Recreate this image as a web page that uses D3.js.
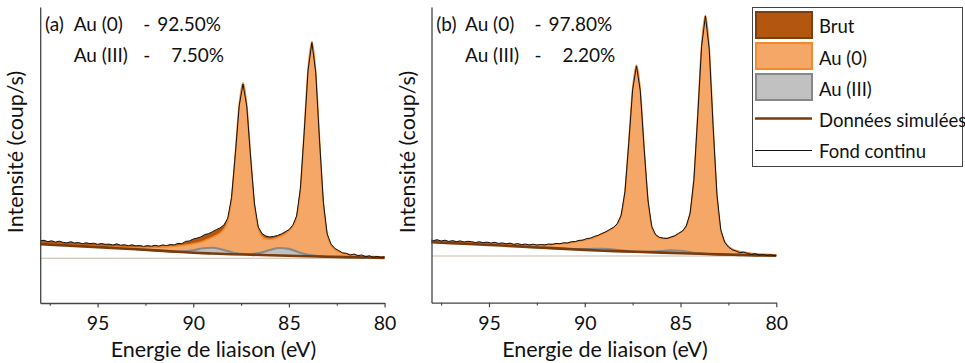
<!DOCTYPE html>
<html><head><meta charset="utf-8">
<script src="https://cdn.jsdelivr.net/npm/d3@7"></script>
<style>body{margin:0;background:#fff}svg{display:block}</style>
</head><body><svg id="c" width="965" height="363"></svg>
<script>
// ---------- data ----------
const xTicks=[95,90,85,80];
const xMinorTicks=[97.5,92.5,87.5,82.5];
const xLabel="Energie de liaison (eV)";
const yLabel="Intensité (coup/s)";
const legendLabels=["Brut","Au (0)","Au (III)","Données simulées","Fond continu"];
const panelTags=["(a)","(b)"];
const au0Names=["Au (0)","Au (0)"];
const au3Names=["Au (III)","Au (III)"];
const au0Pct=["92.50%","97.80%"];
const au3Pct=["7.50%","2.20%"];

// panel (a): [binding energy eV, intensity]
const bgA=[[98,14.2],[97,13.2],[96,12.2],[95,11.2],[94,10.1],[93,9.0],[92,7.9],[91,6.7],[90,5.6],[89,4.8],[88,4.1],[87,3.6],[86,3.1],[85,2.6],[84,2.1],[83,1.6],[82,1.2],[81,0.8],[80,0.4]];
const au0A=[[98,14.9],[97,13.9],[96,12.9],[95,12.2],[94,11.3],[93,10.8],[92,11.0],[91.5,11.4],[91,12.0],[90.5,13.1],[90,14.6],[89.6,16.4],[89.2,19.4],[88.8,22.9],[88.6,25.2],[88.4,29.2],[88.2,37.2],[88.0,59.5],[87.8,104.4],[87.6,152.9],[87.4,175.6],[87.2,152.4],[87.0,100.4],[86.8,53.4],[86.6,29.2],[86.4,21.8],[86.2,19.4],[86.0,19.0],[85.8,19.6],[85.6,20.8],[85.4,22.4],[85.2,24.4],[85.0,27.4],[84.8,31.9],[84.6,41.5],[84.4,69.3],[84.2,127.0],[84.0,189.0],[83.8,216.6],[83.6,186.4],[83.4,117.9],[83.2,55.6],[83.0,23.4],[82.8,12.9],[82.6,8.8],[82.4,6.5],[82.2,5.2],[82.0,4.3],[81.5,3.0],[81.0,2.2],[80.5,1.7],[80,1.2]];
const au3A=[[93,9.0],[92.5,8.45],[92,7.9],[91.5,7.3],[91,6.85],[90.5,6.9],[90,8.0],[89.5,10.0],[89,10.6],[88.5,8.8],[88,6.1],[87.5,4.5],[87,4.25],[86.5,5.45],[86,8.2],[85.5,10.3],[85,9.4],[84.5,6.1],[84,3.4],[83.5,2.15],[83,1.6],[82.5,1.4],[82,1.2],[81.5,1.0],[81,0.8]];
const rawA=[[98.0,17.6],[97.8,18.0],[97.6,16.7],[97.4,17.5],[97.2,16.2],[97.0,17.1],[96.8,15.9],[96.6,15.4],[96.4,16.6],[96.2,15.3],[96.0,15.8],[95.8,14.6],[95.6,15.5],[95.4,14.7],[95.2,15.1],[95.0,14.0],[94.8,14.8],[94.6,14.0],[94.4,14.2],[94.2,13.3],[94.0,14.5],[93.8,13.1],[93.6,13.6],[93.4,12.6],[93.2,13.5],[93.0,12.4],[92.8,12.9],[92.6,11.9],[92.4,12.7],[92.2,12.1],[92.0,13.0],[91.8,12.2],[91.6,13.4],[91.4,12.7],[91.2,13.8],[91.0,13.4],[90.8,14.9],[90.6,14.6],[90.4,16.9],[90.2,17.4],[90.0,19.3],[89.8,20.2],[89.6,21.4],[89.4,23.8],[89.2,24.6],[89.0,26.6],[88.8,28.6],[88.6,30.4],[88.4,33.2],[88.2,40.0],[88.0,60.8],[87.8,104.8],[87.6,152.4],[87.4,174.3],[87.2,151.4],[87.0,100.2],[86.8,54.3],[86.6,31.2],[86.4,24.6],[86.2,22.2],[86.0,21.4],[85.8,21.9],[85.6,22.8],[85.4,24.3],[85.2,26.4],[85.0,28.6],[84.8,33.0],[84.6,42.2],[84.4,69.8],[84.2,126.6],[84.0,188.2],[83.8,215.8],[83.6,186.0],[83.4,117.5],[83.2,56.0],[83.0,24.5],[82.8,14.2],[82.6,9.9],[82.4,7.8],[82.2,5.4],[82.0,5.0],[81.8,3.2],[81.6,4.3],[81.4,2.6],[81.2,3.4],[81.0,1.5],[80.8,2.5],[80.6,1.0],[80.4,1.9],[80.2,0.9],[80.0,1.4]];

// panel (b)
const bgB=[[98,13.8],[97,12.9],[96,12.0],[95,11.1],[94,10.1],[93,9.1],[92,8.1],[91,7.1],[90,6.1],[89,5.3],[88,4.6],[87,4.0],[86,3.4],[85,2.8],[84,2.2],[83,1.6],[82,1.1],[81,0.6],[80,0.2]];
const au0B=[[98,14.5],[97,13.6],[96,12.8],[95,12.2],[94,11.4],[93,11.0],[92,11.15],[91.5,11.8],[91,12.7],[90.5,14.1],[90,15.9],[89.5,18.6],[89.1,22.0],[88.7,25.8],[88.5,28.3],[88.3,32.1],[88.1,40.6],[87.9,64.5],[87.7,113.8],[87.5,166.9],[87.3,191.0],[87.1,165.8],[86.9,107.9],[86.7,55.7],[86.5,29.0],[86.3,21.0],[86.1,18.25],[85.9,17.55],[85.7,17.7],[85.5,18.8],[85.3,20.3],[85.1,22.35],[84.9,25.0],[84.7,29.9],[84.5,42.7],[84.3,76.9],[84.1,141.0],[83.9,210.0],[83.7,240.7],[83.5,207.1],[83.3,130.8],[83.1,61.6],[82.9,25.8],[82.7,14.3],[82.5,9.6],[82.3,7.1],[82.1,5.5],[81.5,3.3],[81,2.1],[80.5,1.6],[80,1.2]];
const au3B=[[93,9.1],[92.5,8.6],[92,8.1],[91.5,7.6],[91,7.15],[90.5,6.83],[90,6.86],[89.5,7.27],[89,7.3],[88.5,6.52],[88,5.36],[87.5,4.55],[87,4.18],[86.5,4.35],[86,5.02],[85.5,5.6],[85,5.18],[84.5,3.8],[84,2.71],[83.5,2.02],[83,1.62],[82.5,1.35],[82,1.1],[81.5,0.85],[81,0.6]];
const rawB=[[98.0,16.0],[97.9,15.4],[97.7,16.3],[97.5,15.0],[97.3,15.8],[97.1,14.6],[96.9,15.4],[96.7,14.4],[96.5,15.1],[96.3,14.0],[96.1,14.7],[95.9,14.3],[95.7,13.5],[95.5,14.3],[95.3,13.3],[95.1,13.9],[94.9,12.9],[94.7,13.7],[94.5,12.6],[94.3,13.1],[94.1,12.2],[93.9,12.9],[93.7,11.7],[93.5,12.4],[93.3,11.4],[93.1,12.0],[92.9,11.1],[92.7,11.8],[92.5,10.9],[92.3,11.5],[92.1,11.0],[91.9,12.0],[91.7,11.6],[91.5,12.6],[91.3,12.3],[91.1,13.2],[90.9,13.0],[90.7,14.2],[90.5,14.4],[90.3,15.6],[90.1,15.9],[89.9,17.4],[89.7,17.9],[89.5,19.6],[89.3,20.7],[89.1,22.6],[88.9,24.2],[88.7,26.5],[88.5,28.6],[88.3,32.3],[88.1,40.8],[87.9,64.5],[87.7,113.5],[87.5,166.3],[87.3,190.0],[87.1,165.2],[86.9,107.6],[86.7,56.0],[86.5,29.4],[86.3,21.4],[86.1,18.6],[85.9,17.9],[85.7,17.5],[85.5,18.9],[85.3,20.1],[85.1,22.6],[84.9,24.9],[84.7,30.0],[84.5,42.8],[84.3,76.5],[84.1,140.6],[83.9,209.5],[83.7,240.0],[83.5,206.6],[83.3,130.4],[83.1,61.8],[82.9,26.4],[82.7,14.0],[82.5,9.0],[82.3,6.2],[82.1,4.9],[81.9,3.2],[81.7,3.9],[81.5,2.5],[81.3,1.6],[81.1,2.4],[80.9,0.8],[80.7,1.5],[80.5,0.6],[80.3,1.2],[80.1,0.4],[80.0,0.7]];

// ---------- layout & style ----------
const FONT="Lato, 'DejaVu Sans', sans-serif";
const C={brut:"#b3560f",brutEdge:"#7d3f10",au0:"#f4a766",au0Edge:"#f28a2c",au3:"#c1c1c1",au3Edge:"#888888",sim:"#7a3b0d",fond:"#111",raw:"#111",zero:"#cbb8a6",axis:"#444"};
const panels=[
 {i:0,bg:bgA,au0:au0A,au3:au3A,raw:rawA,xr:[40.2,384.6],yr:[303,7],yd:[-44.7,251.3]},
 {i:1,bg:bgB,au0:au0B,au3:au3B,raw:rawB,xr:[431.5,776.3],yr:[302.7,7],yd:[-46.7,249]}
];
const svg=d3.select("#c");

panels.forEach(p=>{
  const x=d3.scaleLinear().domain([98,80]).range(p.xr);
  const y=d3.scaleLinear().domain(p.yd).range(p.yr);
  const g=svg.append("g");
  const mk=c=>d3.line().x(d=>x(d[0])).y(d=>y(d[1])).curve(c);
  const smooth=mk(d3.curveMonotoneX), lin=mk(d3.curveLinear);
  function areaPath(top,curve){
    const hi=top[0][0], lo=top[top.length-1][0];
    const base=p.bg.filter(d=>d[0]<=hi+1e-9&&d[0]>=lo-1e-9).slice().reverse();
    return mk(curve)(top)+"L"+smooth(base).slice(1)+"Z";
  }
  g.append("line").attr("x1",p.xr[0]).attr("x2",p.xr[1]).attr("y1",y(0)).attr("y2",y(0))
    .attr("stroke",C.zero).attr("stroke-width",1.1);
  g.append("path").attr("d",areaPath(p.raw,d3.curveLinear)).attr("fill",C.brut);
  g.append("path").attr("d",areaPath(p.au0,d3.curveMonotoneX)).attr("fill",C.au0);
  g.append("path").attr("d",smooth(p.au0)).attr("fill","none").attr("stroke",C.au0Edge).attr("stroke-width",1.6);
  g.append("path").attr("d",areaPath(p.au3,d3.curveMonotoneX)).attr("fill",C.au3);
  g.append("path").attr("d",smooth(p.au3)).attr("fill","none").attr("stroke",C.au3Edge).attr("stroke-width",2.1);
  g.append("path").attr("d",smooth(p.bg)).attr("fill","none").attr("stroke",C.sim).attr("stroke-width",2.6);
  g.append("path").attr("d",lin(p.raw)).attr("fill","none").attr("stroke",C.raw).attr("stroke-width",1).attr("stroke-linejoin","round");

  // axes
  const ax=g.append("g").attr("transform",`translate(0,${p.yr[0]})`).attr("color",C.axis)
    .call(d3.axisBottom(x).tickValues(xTicks).tickSize(4.5).tickSizeOuter(0).tickPadding(9).tickFormat(d3.format("d")));
  ax.select(".domain").attr("stroke-width",1.3);
  ax.selectAll(".tick line").attr("stroke-width",1.2);
  ax.selectAll(".tick text").attr("font-family",FONT).attr("font-size",19.5).attr("fill","#111");
  const mn=g.append("g").attr("transform",`translate(0,${p.yr[0]})`).attr("color",C.axis)
    .call(d3.axisBottom(x).tickValues(xMinorTicks).tickSize(2.8).tickSizeOuter(0).tickFormat(""));
  mn.select(".domain").remove();
  mn.selectAll(".tick line").attr("stroke-width",1.1);
  const ay=g.append("g").attr("transform",`translate(${p.xr[0]},0)`).attr("color",C.axis)
    .call(d3.axisLeft(y).tickValues([]).tickSizeOuter(0));
  ay.select(".domain").attr("stroke-width",1.3);

  // axis titles
  g.append("text").attr("x",(p.xr[0]+p.xr[1])/2+1).attr("y",357).attr("text-anchor","middle")
    .attr("font-family",FONT).attr("font-size",21.5).attr("fill","#111").text(xLabel);
  g.append("text").attr("transform",`translate(${p.xr[0]-17},152) rotate(-90)`).attr("text-anchor","middle")
    .attr("font-family",FONT).attr("font-size",21.5).attr("fill","#111").text(yLabel);

  // annotations
  const ox=p.xr[0];
  const t=(tx,ty,s)=>g.append("text").attr("x",tx).attr("y",ty).attr("font-family",FONT).attr("font-size",19).attr("fill","#111").text(s);
  t(ox+4.8,31,panelTags[p.i]);
  t(ox+33.5,31,au0Names[p.i]); t(ox+103,31,"-"); t(ox+117,31,au0Pct[p.i]);
  t(ox+33.5,61.5,au3Names[p.i]); t(ox+103,61.5,"-"); t(ox+131,61.5,au3Pct[p.i]);
});

// legend
const lg=svg.append("g");
lg.append("rect").attr("x",752.5).attr("y",7.5).attr("width",210).attr("height",159)
  .attr("fill","#fff").attr("stroke","#444").attr("stroke-width",1);
const sw=[[C.brut,C.brutEdge],[C.au0,C.au0Edge],[C.au3,C.au3Edge]];
sw.forEach((s,i)=>lg.append("rect").attr("x",756).attr("y",12+i*31).attr("width",56).attr("height",26)
  .attr("fill",s[0]).attr("stroke",s[1]).attr("stroke-width",2));
lg.append("line").attr("x1",755).attr("x2",812).attr("y1",118.5).attr("y2",118.5).attr("stroke",C.sim).attr("stroke-width",2.4);
lg.append("line").attr("x1",755).attr("x2",812).attr("y1",150.5).attr("y2",150.5).attr("stroke",C.fond).attr("stroke-width",1);
const ly=[33,64.5,95.7,127,158];
legendLabels.forEach((s,i)=>lg.append("text").attr("x",819).attr("y",ly[i]).attr("font-family",FONT)
  .attr("font-size",18.5).attr("fill","#111").text(s));
</script></body></html>
